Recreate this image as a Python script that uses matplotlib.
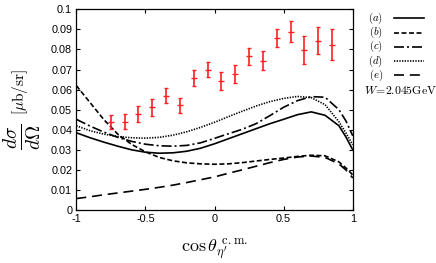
import numpy as np
import matplotlib
matplotlib.use("Agg")
import matplotlib.pyplot as plt
from matplotlib.lines import Line2D
from matplotlib.ticker import FuncFormatter

plt.rcParams['mathtext.fontset'] = 'cm'
plt.rcParams['font.family'] = ['Liberation Sans', 'DejaVu Sans']

# model curves (a)-(e)
cos_x = [-1, -0.9, -0.8, -0.7, -0.6, -0.5, -0.4, -0.3, -0.2, -0.1, 0,
         0.1, 0.2, 0.3, 0.4, 0.5, 0.6, 0.7, 0.8, 0.9, 0.95, 1]
curve_a = [0.0385, 0.0360, 0.0338, 0.0318, 0.0300, 0.0288, 0.0283, 0.0285, 0.0293, 0.0308, 0.0330,
           0.0355, 0.0380, 0.0405, 0.0430, 0.0452, 0.0475, 0.0489, 0.0472, 0.0420, 0.0365, 0.0300]
curve_b = [0.0620, 0.0535, 0.0450, 0.0378, 0.0327, 0.0290, 0.0262, 0.0245, 0.0235, 0.0230, 0.0228,
           0.0230, 0.0236, 0.0244, 0.0252, 0.0259, 0.0267, 0.0273, 0.0270, 0.0240, 0.0210, 0.0175]
curve_c = [0.0452, 0.0418, 0.0388, 0.0362, 0.0342, 0.0328, 0.0320, 0.0318, 0.0322, 0.0335, 0.0357,
           0.0380, 0.0402, 0.0430, 0.0470, 0.0512, 0.0545, 0.0565, 0.0562, 0.0500, 0.0445, 0.0370]
curve_d = [0.0420, 0.0395, 0.0378, 0.0366, 0.0360, 0.0358, 0.0362, 0.0373, 0.0390, 0.0412, 0.0437,
           0.0465, 0.0492, 0.0518, 0.0540, 0.0556, 0.0566, 0.0560, 0.0525, 0.0440, 0.0385, 0.0325]
curve_e = [0.0057, 0.0066, 0.0076, 0.0085, 0.0094, 0.0103, 0.0113, 0.0124, 0.0137, 0.0151, 0.0165,
           0.0183, 0.0200, 0.0218, 0.0236, 0.0252, 0.0264, 0.0269, 0.0262, 0.0230, 0.0200, 0.0160]

# experimental points
data_x = [-0.75, -0.65, -0.55, -0.45, -0.35, -0.25, -0.15, -0.05, 0.05, 0.15,
          0.25, 0.35, 0.45, 0.55, 0.65, 0.75, 0.85]
data_y = [0.0440, 0.0440, 0.0478, 0.0511, 0.0569, 0.0522, 0.0658, 0.0700, 0.0645, 0.0677,
          0.0766, 0.0745, 0.0857, 0.0889, 0.0798, 0.0844, 0.0824]
data_err = [0.0035, 0.0036, 0.0040, 0.0043, 0.0037, 0.0037, 0.0038, 0.0038, 0.0045, 0.0046,
            0.0041, 0.0046, 0.0046, 0.0052, 0.0068, 0.0069, 0.0078]

labels = ['(a)', '(b)', '(c)', '(d)', '(e)']
styles = [
    dict(linestyle='-'),
    dict(dashes=(3.0, 1.5)),
    dict(dashes=(6.0, 1.8, 1.2, 1.8)),
    dict(dashes=(0.8, 0.8)),
    dict(dashes=(6.0, 3.5)),
]

fig = plt.figure(figsize=(4.36, 2.63), dpi=100)
ax = fig.add_axes([0.175, 0.2015, 0.634, 0.763])

for yv, st in zip([curve_a, curve_b, curve_c, curve_d, curve_e], styles):
    ax.plot(cos_x, yv, color='black', linewidth=1.2, **st)

ax.errorbar(data_x, data_y, yerr=data_err, fmt='_', color='#ff2020', markersize=4,
            elinewidth=1.2, capsize=1.5, capthick=1.0, markeredgewidth=1.0)

ax.set_xlim(-1, 1)
ax.set_ylim(0, 0.1)
ax.set_xticks([-1, -0.5, 0, 0.5, 1])
ax.set_yticks(np.arange(0, 0.1001, 0.01))
ax.xaxis.set_major_formatter(FuncFormatter(lambda v, p: '%g' % v))
ax.yaxis.set_major_formatter(FuncFormatter(lambda v, p: '%g' % round(v, 3)))
ax.tick_params(direction='in', top=True, right=True, length=3, width=0.8, labelsize=7.8, pad=3)
for sp in ax.spines.values():
    sp.set_linewidth(0.9)

# axis labels
fig.text(0.493, 0.005, r'$\cos\theta_{\eta^{\prime}}^{\ \rm c.m.}$', fontsize=13,
         ha='center', va='bottom')
fig.text(0.052, 0.478, r'$\frac{d\sigma}{d\Omega}$', fontsize=20, rotation=90,
         ha='center', va='center')
fig.text(0.046, 0.652, r'$[\mu{\rm b/sr}]$', fontsize=11, rotation=90,
         ha='center', va='center')

# legend drawn by hand on the right
leg_y = [0.930, 0.876, 0.822, 0.768, 0.714]
for lab, st, ly in zip(labels, styles, leg_y):
    fig.text(0.862, ly, '$' + lab + '$', fontsize=7.8, ha='center', va='center')
    fig.add_artist(Line2D([0.903, 0.972], [ly, ly], transform=fig.transFigure,
                          color='black', linewidth=1.2, **st))
fig.text(0.918, 0.655, r'$W\!=\!2.045{\rm GeV}$', fontsize=8.5, ha='center', va='center')

fig.savefig('out.png', dpi=100)
